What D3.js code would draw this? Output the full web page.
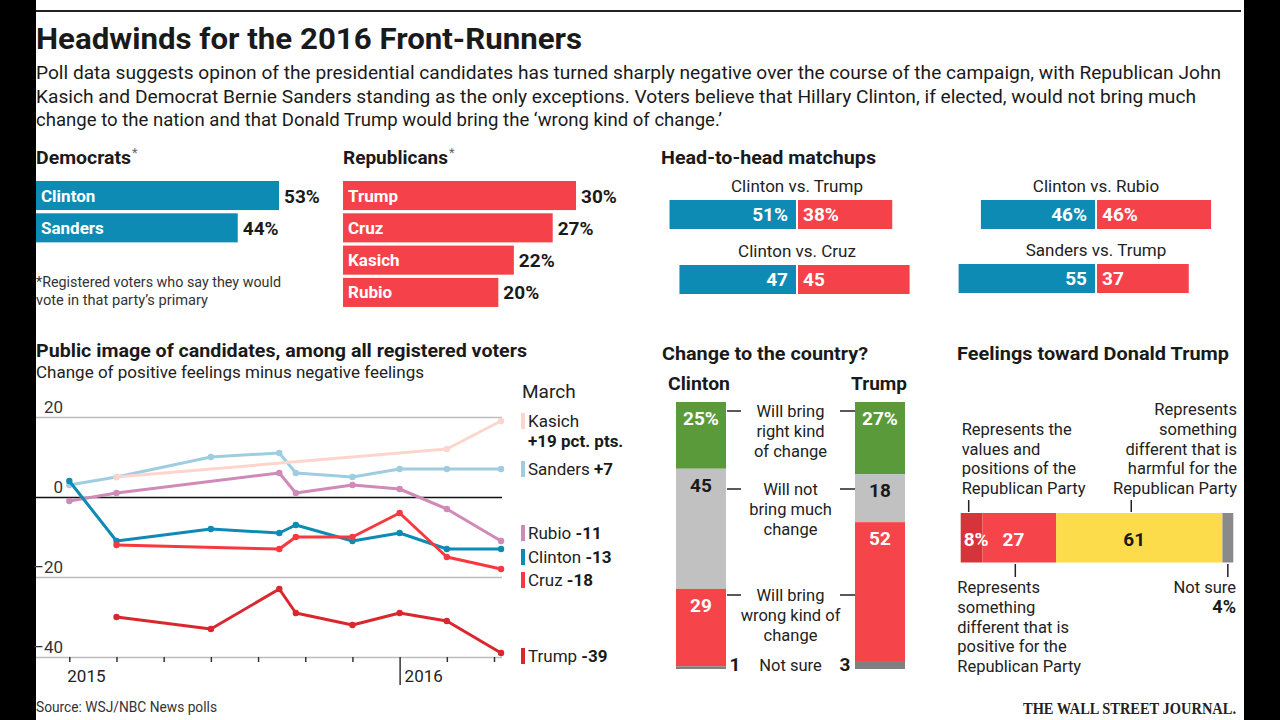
<!DOCTYPE html>
<html><head><meta charset="utf-8">
<script src="https://cdn.jsdelivr.net/npm/d3@7"></script>
<style>html,body{margin:0;padding:0;background:#000;} svg{display:block;} svg{font-family:Roboto,"Open Sans",sans-serif;}</style>
</head><body><svg id="c" width="1280" height="720"></svg>
<script>
// ---------- DATA ----------
const demCandidates = ["Clinton", "Sanders"];
const demValues = [53, 44];
const repCandidates = ["Trump", "Cruz", "Kasich", "Rubio"];
const repValues = [30, 27, 22, 20];

const h2hMatchups = ["Clinton vs. Trump", "Clinton vs. Cruz", "Clinton vs. Rubio", "Sanders vs. Trump"];
const h2hDem = [51, 47, 46, 55];
const h2hRep = [38, 45, 46, 37];

// public image: x in axis tick units (2015 = 0, 2016 = 7), y = net positive pct. pts.
const seriesNames = ["Sanders", "Kasich", "Rubio", "Clinton", "Cruz", "Trump"];
const sandersX = [0, 1, 3, 4.45, 4.8, 6, 7, 8, 9.15];
const sandersY = [3, 5, 10, 11, 6, 5, 7, 7, 7];
const kasichX = [1, 8, 9.15];
const kasichY = [5, 12, 19];
const rubioX = [0, 1, 4.45, 4.8, 6, 7, 8, 9.15];
const rubioY = [-1, 1, 6, 1, 3, 2, -3, -11];
const clintonX = [0, 1, 3, 4.45, 4.8, 6, 7, 8, 9.15];
const clintonY = [4, -11, -8, -9, -7, -11, -9, -13, -13];
const cruzX = [1, 4.45, 4.8, 6, 7, 8, 9.15];
const cruzY = [-12, -13, -10, -10, -4, -15, -18];
const trumpX = [1, 3, 4.45, 4.8, 6, 7, 8, 9.15];
const trumpY = [-30, -33, -23, -29, -32, -29, -31, -39];
const yTicks = [20, 0, -20, -40];
const xTickValues = [0, 1, 2, 3, 4, 5, 6, 7, 8, 9];
const xTickLabels = ["2015", "2016"];
const xTickLabelAt = [0, 7];
const legendOrder = ["Kasich", "Sanders", "Rubio", "Clinton", "Cruz", "Trump"];
const legendValues = ["+19 pct. pts.", "+7", "-11", "-13", "-18", "-39"];

const changeCategories = [["Will bring", "right kind", "of change"], ["Will not", "bring much", "change"], ["Will bring", "wrong kind of", "change"], ["Not sure"]];
const clintonChange = [25, 45, 29, 1];
const trumpChange = [27, 18, 52, 3];

const feelingsCategories = [
  ["Represents the", "values and", "positions of the", "Republican Party"],
  ["Represents", "something", "different that is", "positive for the", "Republican Party"],
  ["Represents", "something", "different that is", "harmful for the", "Republican Party"],
  ["Not sure"]
];
const feelingsValues = [8, 27, 61, 4];

// ---------- STYLE ----------
const BLUE = "#0e8bb4", RED = "#f5424a", INK = "#1a1a1a";
const lineColors = {Sanders: "#9fcde0", Kasich: "#fdd5cc", Rubio: "#cf8ab7", Clinton: "#0e8bb4", Cruz: "#f7393f", Trump: "#d9272d"};

const svg = d3.select("#c");
svg.append("rect").attr("width", 1280).attr("height", 720).attr("fill", "#000");
svg.append("rect").attr("x", 36).attr("width", 1208).attr("height", 720).attr("fill", "#fff");
svg.append("line").attr("x1", 36).attr("x2", 1241).attr("y1", 11).attr("y2", 11).attr("stroke", "#222").attr("stroke-width", 2);

function T(x, y, s, o = {}) {
  const t = svg.append("text").attr("x", x).attr("y", y).text(s)
    .attr("font-size", o.size || 17).attr("font-weight", o.bold ? 700 : 400)
    .attr("fill", o.fill || INK).attr("text-anchor", o.anchor || "start");
  if (o.fit) t.attr("textLength", o.fit).attr("lengthAdjust", "spacingAndGlyphs");
  if (o.family) t.style("font-family", o.family);
  return t;
}

// ---------- HEADER ----------
T(36, 49, "Headwinds for the 2016 Front-Runners", {size: 29, bold: true, fit: 546});
T(36, 79, "Poll data suggests opinon of the presidential candidates has turned sharply negative over the course of the campaign, with Republican John", {size: 18.5, fit: 1185});
T(36, 103, "Kasich and Democrat Bernie Sanders standing as the only exceptions. Voters believe that Hillary Clinton, if elected, would not bring much", {size: 18.5, fit: 1160});
T(36, 126, "change to the nation and that Donald Trump would bring the \u2018wrong kind of change.\u2019", {size: 18.5, fit: 686});

// ---------- PRIMARY BARS ----------
function primary(x0, title, titleW, names, vals, maxV, maxW, color) {
  T(x0, 164, title, {size: 18.5, bold: true, fit: titleW});
  T(x0 + titleW + 1, 157, "*", {size: 13, fill: "#666"});
  const step = 32.3, p = 0.1;
  const yb = d3.scaleBand().domain(names).range([181, 181 + step * (names.length - p)]).paddingInner(p);
  const xs = d3.scaleLinear().domain([0, maxV]).range([0, maxW]);
  names.forEach((n, i) => {
    svg.append("rect").attr("x", x0).attr("y", yb(n)).attr("width", xs(vals[i])).attr("height", yb.bandwidth()).attr("fill", color);
    T(x0 + 5, yb(n) + yb.bandwidth() / 2 + 6, n, {size: 17, bold: true, fill: "#fff"});
    T(x0 + xs(vals[i]) + 5, yb(n) + yb.bandwidth() / 2 + 7, vals[i] + "%", {size: 19, bold: true});
  });
}
primary(36, "Democrats", 95, demCandidates, demValues, 53, 243, BLUE);
primary(343, "Republicans", 105, repCandidates, repValues, 30, 233, RED);
T(36, 287, "*Registered voters who say they would", {size: 15, fill: "#333", fit: 245});
T(36, 305, "vote in that party\u2019s primary", {size: 15, fill: "#333", fit: 172});

// ---------- HEAD TO HEAD ----------
T(661, 164, "Head-to-head matchups", {size: 18.5, bold: true, fit: 215});
const xH = d3.scaleLinear().domain([0, 100]).range([0, 248]);
const splitX = [797, 1096], rowY = [200, 265];
h2hMatchups.forEach((m, i) => {
  const col = i < 2 ? 0 : 1, row = i % 2;
  const sx = splitX[col], by = rowY[row] - (col === 1 && row === 1 ? 1 : 0);
  const pct = row === 0 ? "%" : "";
  T(sx, by - 8, m, {size: 17, anchor: "middle", fill: "#222"});
  svg.append("rect").attr("x", sx - 1 - xH(h2hDem[i])).attr("y", by).attr("width", xH(h2hDem[i])).attr("height", 29).attr("fill", BLUE);
  svg.append("rect").attr("x", sx + 1).attr("y", by).attr("width", xH(h2hRep[i])).attr("height", 29).attr("fill", RED);
  T(sx - 9, by + 21, h2hDem[i] + pct, {size: 19, bold: true, fill: "#fff", anchor: "end"});
  T(sx + 6, by + 21, h2hRep[i] + pct, {size: 19, bold: true, fill: "#fff"});
});

// ---------- PUBLIC IMAGE LINE CHART ----------
T(36, 357, "Public image of candidates, among all registered voters", {size: 18.5, bold: true, fit: 491});
T(36, 378, "Change of positive feelings minus negative feelings", {size: 17, fill: "#222", fit: 388});

const x = d3.scaleLinear().domain([0, 9]).range([69.3, 494]);
const y = d3.scaleLinear().domain([-40, 20]).range([657, 417]);

const gy = svg.append("g").attr("transform", "translate(36,0)")
  .call(d3.axisLeft(y).tickValues(yTicks).tickSize(-466).tickFormat(d => d < 0 ? "\u2013" + Math.abs(d) : d));
gy.select(".domain").remove();
gy.selectAll(".tick line").attr("stroke", d => d === 0 ? "#111" : "#bdbdbd").attr("stroke-width", 1.6);
gy.attr("font-family", null).attr("font-size", null);
gy.selectAll(".tick text").attr("x", 27).attr("y", -5).attr("dy", 0)
  .attr("font-size", 17).attr("fill", "#333").attr("text-anchor", "end");

const gx = svg.append("g").attr("transform", "translate(0,657)")
  .call(d3.axisBottom(x).tickValues(xTickValues).tickSize(5).tickFormat(""));
gx.select(".domain").remove();
gx.selectAll(".tick line").attr("stroke", "#333").attr("stroke-width", 1.5)
  .attr("y2", d => xTickLabelAt.includes(d) && d !== 0 ? 28 : 5);
xTickLabels.forEach((l, i) => {
  const v = xTickLabelAt[i];
  T(v === 0 ? x(v) - 2 : x(v) + 5, 682, l, {size: 17, fill: "#222"});
});

const seriesData = {
  Sanders: d3.zip(sandersX, sandersY), Kasich: d3.zip(kasichX, kasichY), Rubio: d3.zip(rubioX, rubioY),
  Clinton: d3.zip(clintonX, clintonY), Cruz: d3.zip(cruzX, cruzY), Trump: d3.zip(trumpX, trumpY)
};
const line = d3.line().x(d => x(d[0])).y(d => y(d[1]));
seriesNames.forEach(n => {
  const g = svg.append("g");
  g.append("path").datum(seriesData[n]).attr("d", line).attr("fill", "none")
    .attr("stroke", lineColors[n]).attr("stroke-width", 3).attr("stroke-linejoin", "round");
  g.selectAll("circle").data(seriesData[n]).join("circle")
    .attr("cx", d => x(d[0])).attr("cy", d => y(d[1])).attr("r", 3.2).attr("fill", lineColors[n]);
});

// legend
T(522, 398, "March", {size: 19, fill: "#222"});
const legendY = [421, 469, 533, 557, 580, 656];
legendOrder.forEach((n, i) => {
  const ly = legendY[i];
  svg.append("rect").attr("x", 521).attr("y", ly - 8).attr("width", 4).attr("height", 16).attr("fill", lineColors[n]);
  if (n === "Kasich") {
    T(528, ly + 6, n, {size: 17, fill: "#222"});
    T(528, ly + 26, legendValues[i], {size: 17, bold: true});
  } else {
    const t = T(528, ly + 6, n + " ", {size: 17, fill: "#222"});
    t.append("tspan").attr("font-weight", 700).attr("fill", INK).text(legendValues[i]);
  }
});
T(36, 712, "Source: WSJ/NBC News polls", {size: 14.5, fill: "#333", fit: 181});

// ---------- CHANGE TO THE COUNTRY ----------
T(662, 360, "Change to the country?", {size: 18.5, bold: true, fit: 206});
T(668, 390, "Clinton", {size: 18.5, bold: true, fit: 62});
T(851, 390, "Trump", {size: 18.5, bold: true, fit: 56});
const yC = d3.scaleLinear().domain([0, 100]).range([402, 669]);
const changeColors = ["#5b9a3b", "#c1c1c1", "#f5444a", "#808080"];
const changeText = ["#fff", INK, "#fff"];
function stackBar(bx, vals, notSureX) {
  let acc = 0;
  vals.forEach((v, i) => {
    svg.append("rect").attr("x", bx).attr("y", yC(acc)).attr("width", 50).attr("height", yC(acc + v) - yC(acc)).attr("fill", changeColors[i]);
    if (i < 3) T(bx + 25, yC(acc) + 23, v + (i === 0 ? "%" : ""), {size: 19, bold: true, fill: changeText[i], anchor: "middle"});
    else T(notSureX, 671, v, {size: 19, bold: true, anchor: "middle"});
    acc += v;
  });
}
stackBar(676, clintonChange, 735);
stackBar(855, trumpChange, 845);
const connY = [411, 489, 595];
changeCategories.forEach((lines, i) => {
  if (i < 3) {
    svg.append("line").attr("x1", 727).attr("x2", 741).attr("y1", connY[i]).attr("y2", connY[i]).attr("stroke", "#222").attr("stroke-width", 1.5);
    svg.append("line").attr("x1", 840).attr("x2", 855).attr("y1", connY[i]).attr("y2", connY[i]).attr("stroke", "#222").attr("stroke-width", 1.5);
    lines.forEach((l, j) => T(790.5, connY[i] + 6 + j * 20, l, {size: 16.5, anchor: "middle", fill: "#222"}));
  } else {
    T(790.5, 671, lines[0], {size: 16.5, anchor: "middle", fill: "#222"});
  }
});

// ---------- FEELINGS TOWARD TRUMP ----------
T(957, 360, "Feelings toward Donald Trump", {size: 18.5, bold: true, fit: 272});
const xF = d3.scaleLinear().domain([0, 100]).range([960.7, 1233.3]);
const feelColors = ["#d5343a", "#f5444a", "#fddc4c", "#8a8a8a"];
let facc = 0;
const segs = feelingsValues.map(v => { const s = {x0: xF(facc), x1: xF(facc + v), v}; facc += v; return s; });
segs.forEach((s, i) => {
  svg.append("rect").attr("x", s.x0).attr("y", 513).attr("width", s.x1 - s.x0).attr("height", 49.5).attr("fill", feelColors[i]);
});
T(segs[0].x0 + 3, 546, segs[0].v + "%", {size: 19, bold: true, fill: "#fff"});
T(segs[1].x0 + 20, 546, segs[1].v, {size: 19, bold: true, fill: "#fff"});
T((segs[2].x0 + segs[2].x1) / 2 - 5, 546, segs[2].v, {size: 19, bold: true, anchor: "middle"});
// ticks
const tickX = [segs[0].x0 + 8, (segs[1].x0 + segs[1].x1) / 2 - 4, (segs[2].x0 + segs[2].x1) / 2 - 8, (segs[3].x0 + segs[3].x1) / 2];
[0, 2].forEach(i => svg.append("line").attr("x1", tickX[i]).attr("x2", tickX[i]).attr("y1", 500).attr("y2", 512).attr("stroke", "#222").attr("stroke-width", 1.5));
[1, 3].forEach(i => svg.append("line").attr("x1", tickX[i]).attr("x2", tickX[i]).attr("y1", 564).attr("y2", 577).attr("stroke", "#222").attr("stroke-width", 1.5));
// labels
feelingsCategories[0].forEach((l, j, a) => T(961.7, 494 - (a.length - 1 - j) * 19.7, l, {size: 16.5, fill: "#222"}));
feelingsCategories[2].forEach((l, j, a) => T(1237, 494 - (a.length - 1 - j) * 19.7, l, {size: 16.5, fill: "#222", anchor: "end"}));
feelingsCategories[1].forEach((l, j) => T(957.3, 593 + j * 19.8, l, {size: 16.5, fill: "#222"}));
T(1236, 593, feelingsCategories[3][0], {size: 16.5, fill: "#222", anchor: "end"});
T(1236, 613, feelingsValues[3] + "%", {size: 18, bold: true, anchor: "end"});

T(1236, 714, "THE WALL STREET JOURNAL.", {size: 16, bold: true, anchor: "end", fit: 213, family: "'Liberation Serif','DejaVu Serif',serif", fill: "#222"});
</script></body></html>
